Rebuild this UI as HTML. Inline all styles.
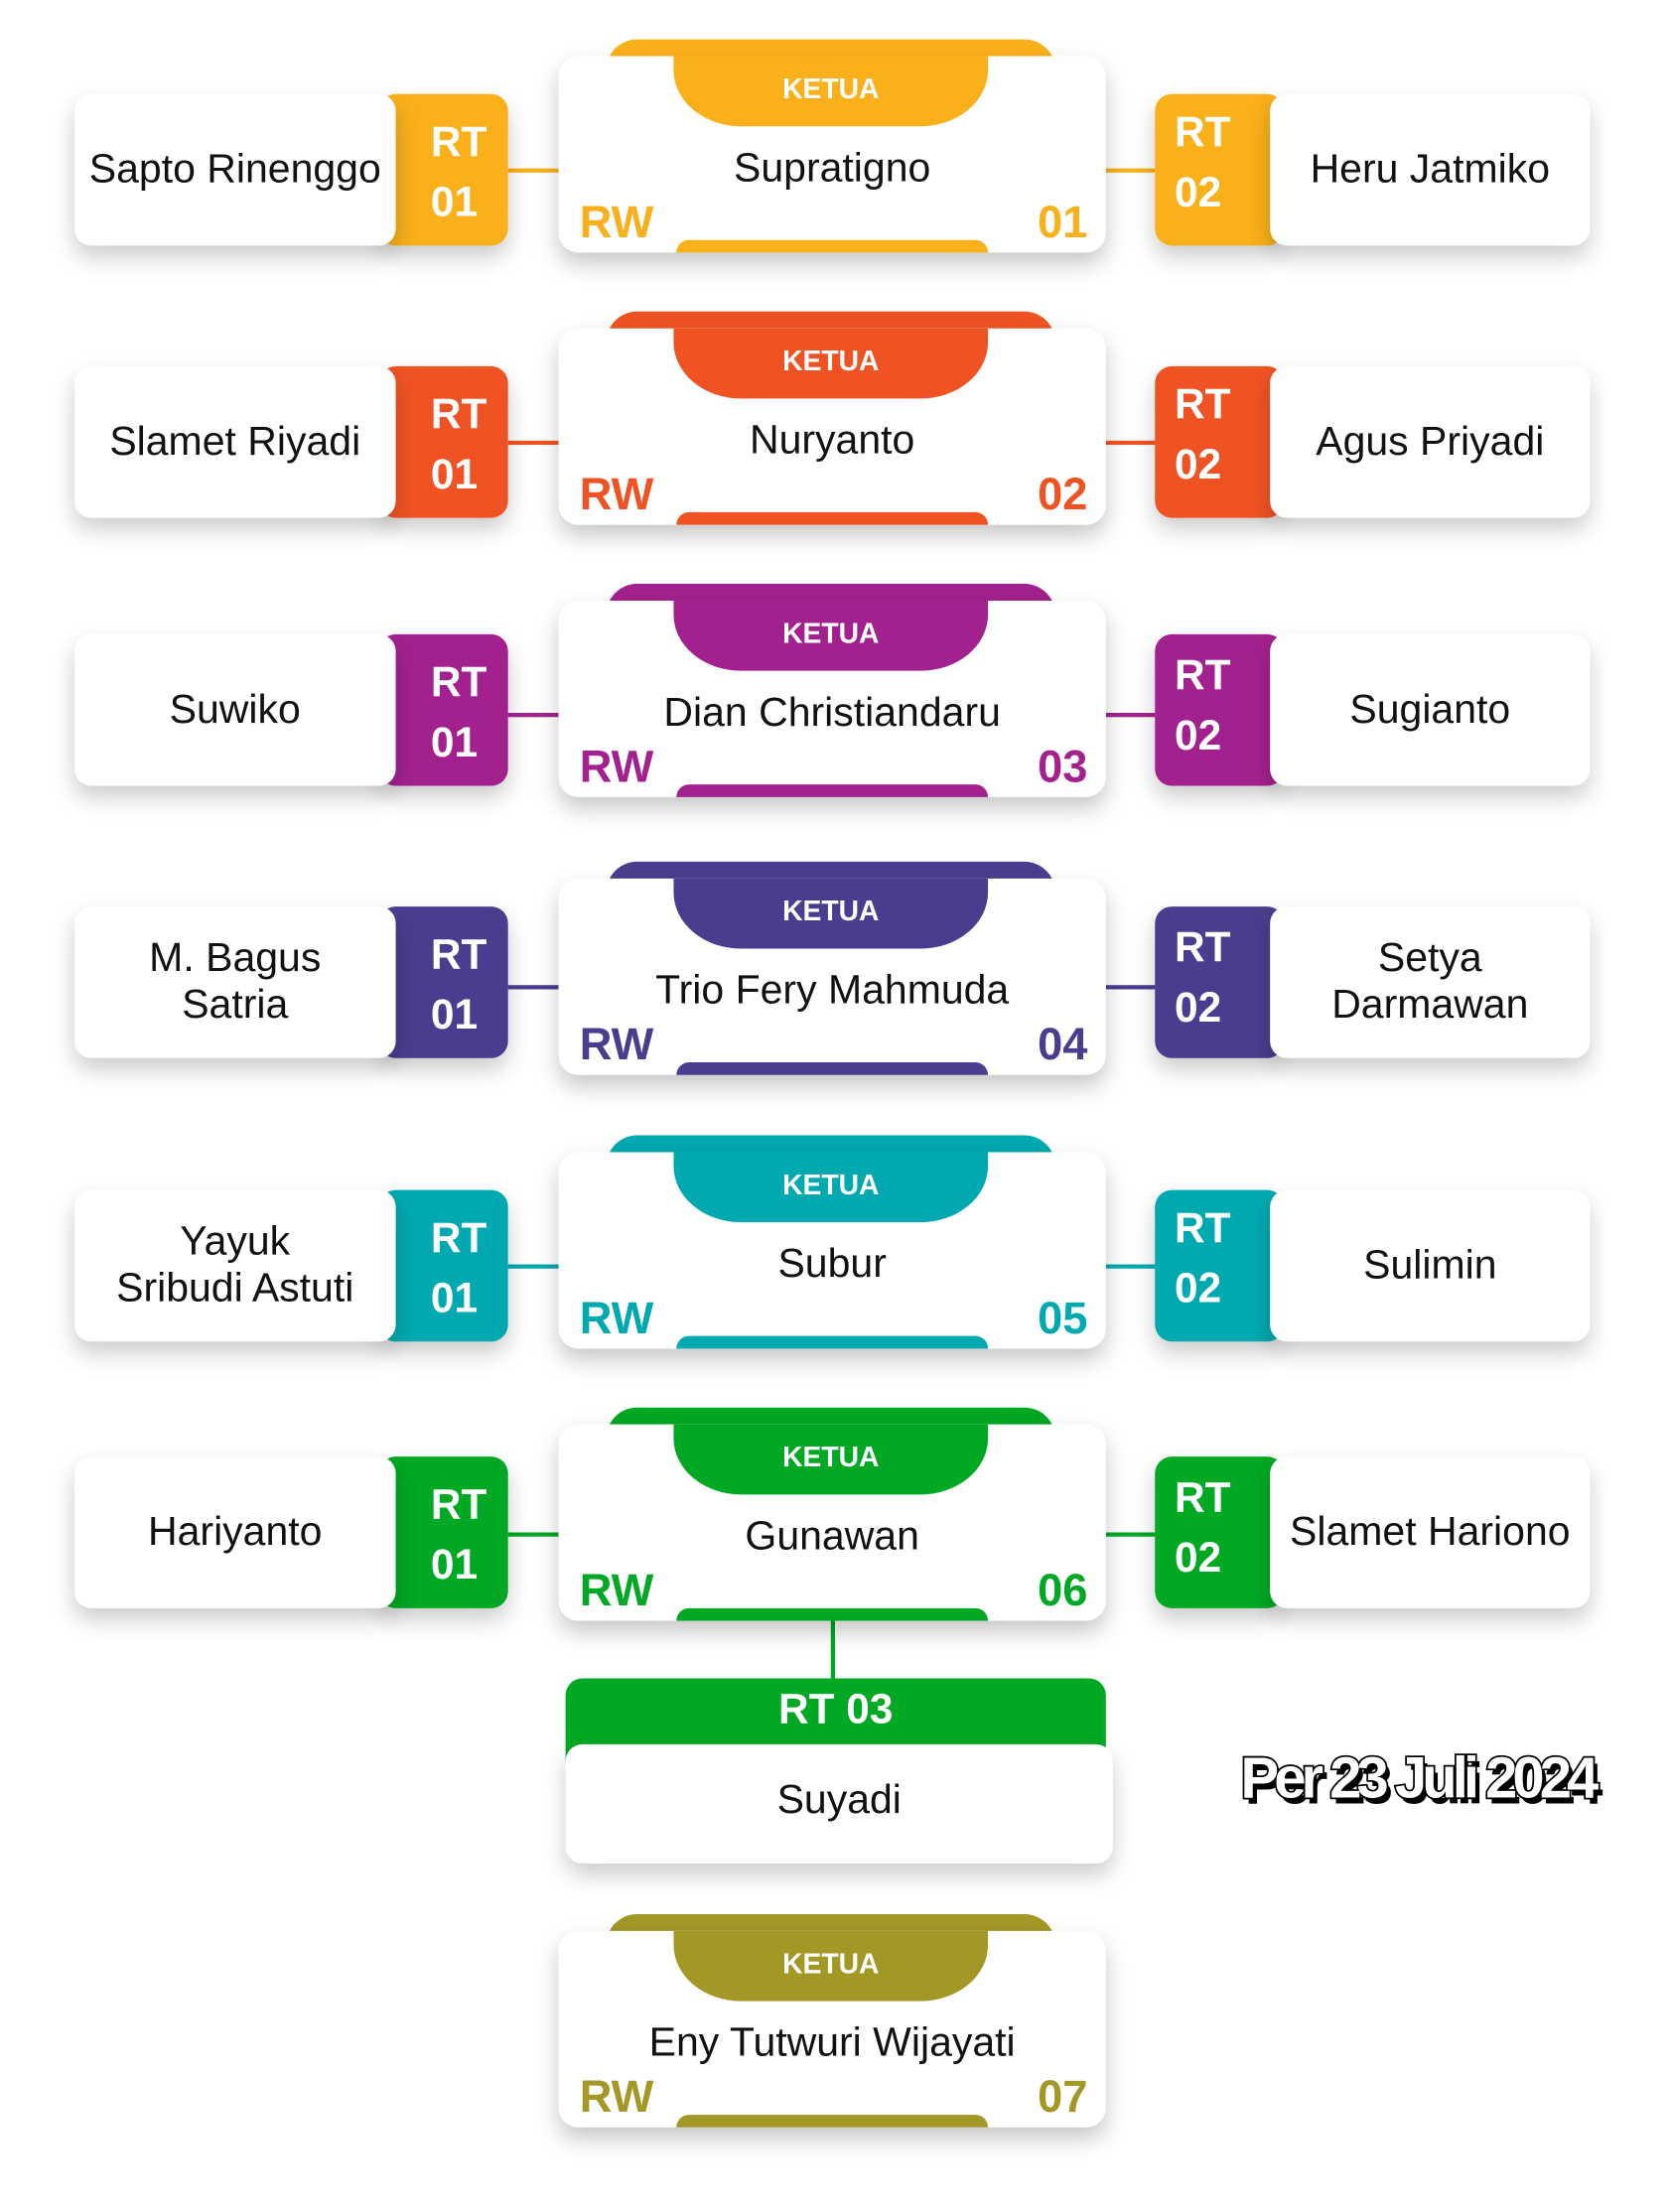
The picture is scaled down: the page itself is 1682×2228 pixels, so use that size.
<!DOCTYPE html>
<html><head><meta charset="utf-8">
<style>
html,body{margin:0;padding:0;background:#fff;}
body{width:1682px;height:2224px;overflow:hidden;position:relative;font-family:"Liberation Sans",sans-serif;}
#s{position:absolute;left:0;top:0;width:1190px;height:1574px;transform:scale(1.41345);transform-origin:0 0;}
.row{position:absolute;left:0;width:1190px;height:200px;}
.tab{position:absolute;left:432px;top:-12px;width:320px;height:30px;border-radius:22px 22px 0 0;}
.card{position:absolute;left:398px;top:0;width:390px;height:140px;border-radius:14px;background:#fff;box-shadow:0 8px 16px rgba(0,0,0,.22);overflow:hidden;}
.bowl{position:absolute;left:82px;top:0;width:224px;height:50px;border-radius:0 0 48px 48px/0 0 40px 40px;color:#fff;font-weight:bold;font-size:20px;text-align:center;line-height:48px;}
.name{position:absolute;left:0;width:390px;top:64px;text-align:center;font-size:29px;color:#111;}
.rw{position:absolute;left:15px;top:100px;font-size:32px;font-weight:bold;}
.num{position:absolute;right:13px;top:100px;font-size:32px;font-weight:bold;}
.bar{position:absolute;left:84px;top:131px;width:222px;height:12px;border-radius:9px 9px 0 0;}
.lc{position:absolute;left:270px;top:27px;width:92px;height:108px;border-radius:12px;box-shadow:0 8px 16px rgba(0,0,0,.2);}
.lw{position:absolute;left:53px;top:27px;width:229px;height:108px;border-radius:12px;background:#fff;box-shadow:0 8px 16px rgba(0,0,0,.2);display:flex;align-items:center;justify-content:center;text-align:center;font-size:29px;line-height:33px;color:#111;}
.rc{position:absolute;left:823px;top:27px;width:92px;height:108px;border-radius:12px;box-shadow:0 8px 16px rgba(0,0,0,.2);}
.rwt{position:absolute;left:905px;top:27px;width:228px;height:108px;border-radius:12px;background:#fff;box-shadow:0 8px 16px rgba(0,0,0,.2);display:flex;align-items:center;justify-content:center;text-align:center;font-size:29px;line-height:33px;color:#111;}
.rt{position:absolute;color:#fff;font-weight:bold;font-size:30px;line-height:43px;top:40px;}
.rt.l{left:307px;}
.rt.r{left:837px;top:33px;}
.ln{position:absolute;top:80px;height:3px;}
.ln.l{left:362px;width:36px;}
.ln.r{left:788px;width:35px;}
</style></head><body><div id="s">

<div class="row" style="top:40px">
<div class="ln l" style="background:#F9B01A"></div><div class="ln r" style="background:#F9B01A"></div>
<div class="lc" style="background:#F9B01A"></div><div class="lw">Sapto Rinenggo</div><div class="rt l">RT<br>01</div>
<div class="rc" style="background:#F9B01A"></div><div class="rwt">Heru Jatmiko</div><div class="rt r">RT<br>02</div>
<div class="tab" style="background:#F9B01A"></div>
<div class="card"><div class="bowl" style="background:#F9B01A">KETUA</div><div class="name">Supratigno</div><div class="rw" style="color:#F9B01A">RW</div><div class="num" style="color:#F9B01A">01</div><div class="bar" style="background:#F9B01A"></div></div>
</div>

<div class="row" style="top:234px">
<div class="ln l" style="background:#F05323"></div><div class="ln r" style="background:#F05323"></div>
<div class="lc" style="background:#F05323"></div><div class="lw">Slamet Riyadi</div><div class="rt l">RT<br>01</div>
<div class="rc" style="background:#F05323"></div><div class="rwt">Agus Priyadi</div><div class="rt r">RT<br>02</div>
<div class="tab" style="background:#F05323"></div>
<div class="card"><div class="bowl" style="background:#F05323">KETUA</div><div class="name">Nuryanto</div><div class="rw" style="color:#F05323">RW</div><div class="num" style="color:#F05323">02</div><div class="bar" style="background:#F05323"></div></div>
</div>

<div class="row" style="top:428px">
<div class="ln l" style="background:#A3218E"></div><div class="ln r" style="background:#A3218E"></div>
<div class="lc" style="background:#A3218E;top:24px"></div><div class="lw" style="top:24px">Suwiko</div><div class="rt l" style="top:37px">RT<br>01</div>
<div class="rc" style="background:#A3218E;top:24px"></div><div class="rwt" style="top:24px">Sugianto</div><div class="rt r" style="top:32px">RT<br>02</div>
<div class="tab" style="background:#A3218E"></div>
<div class="card"><div class="bowl" style="background:#A3218E">KETUA</div><div class="name">Dian Christiandaru</div><div class="rw" style="color:#A3218E">RW</div><div class="num" style="color:#A3218E">03</div><div class="bar" style="background:#A3218E"></div></div>
</div>

<div class="row" style="top:626px">
<div class="ln l" style="background:#4A3D8F;top:76px"></div><div class="ln r" style="background:#4A3D8F;top:76px"></div>
<div class="lc" style="background:#4A3D8F;top:20px"></div><div class="lw" style="top:20px">M. Bagus<br>Satria</div><div class="rt l" style="top:33px">RT<br>01</div>
<div class="rc" style="background:#4A3D8F;top:20px"></div><div class="rwt" style="top:20px">Setya<br>Darmawan</div><div class="rt r" style="top:28px">RT<br>02</div>
<div class="tab" style="background:#4A3D8F"></div>
<div class="card"><div class="bowl" style="background:#4A3D8F">KETUA</div><div class="name">Trio Fery Mahmuda</div><div class="rw" style="color:#4A3D8F">RW</div><div class="num" style="color:#4A3D8F">04</div><div class="bar" style="background:#4A3D8F"></div></div>
</div>

<div class="row" style="top:821px">
<div class="ln l" style="background:#00A9B0"></div><div class="ln r" style="background:#00A9B0"></div>
<div class="lc" style="background:#00A9B0"></div><div class="lw">Yayuk<br>Sribudi Astuti</div><div class="rt l">RT<br>01</div>
<div class="rc" style="background:#00A9B0"></div><div class="rwt">Sulimin</div><div class="rt r">RT<br>02</div>
<div class="tab" style="background:#00A9B0"></div>
<div class="card"><div class="bowl" style="background:#00A9B0">KETUA</div><div class="name">Subur</div><div class="rw" style="color:#00A9B0">RW</div><div class="num" style="color:#00A9B0">05</div><div class="bar" style="background:#00A9B0"></div></div>
</div>

<div class="row" style="top:1015px">
<div class="ln l" style="background:#00A823;top:77px"></div><div class="ln r" style="background:#00A823;top:77px"></div>
<div class="lc" style="background:#00A823;top:23px"></div><div class="lw" style="top:23px">Hariyanto</div><div class="rt l" style="top:36px">RT<br>01</div>
<div class="rc" style="background:#00A823;top:23px"></div><div class="rwt" style="top:23px">Slamet Hariono</div><div class="rt r" style="top:31px">RT<br>02</div>
<div style="position:absolute;left:592px;top:135px;width:3px;height:50px;background:#00A823"></div>
<div class="tab" style="background:#00A823"></div>
<div class="card"><div class="bowl" style="background:#00A823">KETUA</div><div class="name">Gunawan</div><div class="rw" style="color:#00A823">RW</div><div class="num" style="color:#00A823">06</div><div class="bar" style="background:#00A823"></div></div>
</div>

<div style="position:absolute;left:403px;top:1196px;width:385px;height:60px;background:#00A823;border-radius:12px 12px 0 0;color:#fff;font-weight:bold;font-size:30px;text-align:center;line-height:46px;">RT 03</div>
<div style="position:absolute;left:403px;top:1243px;width:390px;height:85px;background:#fff;border-radius:12px;box-shadow:0 8px 16px rgba(0,0,0,.2);text-align:center;font-size:29px;line-height:80px;color:#111;">Suyadi</div>

<div style="position:absolute;left:884px;top:1244px;font-size:41px;font-weight:bold;letter-spacing:-3.5px;color:#fff;-webkit-text-stroke:2.5px #000;paint-order:stroke fill;text-shadow:3px 4px 0 #000;white-space:nowrap;">Per 23 Juli 2024</div>

<div class="row" style="top:1376px">
<div class="tab" style="background:#A39726"></div>
<div class="card"><div class="bowl" style="background:#A39726">KETUA</div><div class="name">Eny Tutwuri Wijayati</div><div class="rw" style="color:#A39726">RW</div><div class="num" style="color:#A39726">07</div><div class="bar" style="background:#A39726"></div></div>
</div>

</div></body></html>
